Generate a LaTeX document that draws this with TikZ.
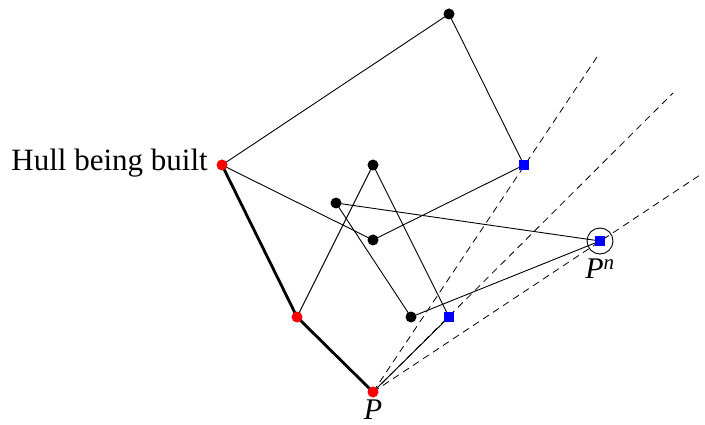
\documentclass[tikz,border=0pt]{standalone}
\usepackage{fontspec}
\setmainfont{Liberation Serif}
\begin{document}
\begin{tikzpicture}[x=1pt,y=-1pt,
  edge/.style={line width=0.9pt},
  hulledge/.style={line width=2.8pt},
  guide/.style={line width=0.8pt,dash pattern=on 7pt off 5pt},
  bdot/.style={circle,fill=black,inner sep=0pt,minimum size=11pt},
  rdot/.style={circle,fill=red,inner sep=0pt,minimum size=11pt},
  bsq/.style={rectangle,fill=blue,inner sep=0pt,minimum size=10pt},
  lbl/.style={font=\fontsize{31}{34}\selectfont},
  plbl/.style={font=\fontsize{30}{33}\selectfont},
]
\useasboundingbox (0,0) rectangle (705,425);
% points
\coordinate (h1) at (222,165);
\coordinate (h2) at (297,317);
\coordinate (p) at (373,392);
\coordinate (t) at (449,14);
\coordinate (b2) at (373,165);
\coordinate (b3) at (336,203);
\coordinate (b4) at (373,240);
\coordinate (b5) at (411,317);
\coordinate (s1) at (524,165);
\coordinate (s2) at (449,317);
\coordinate (pn) at (600,241);
\coordinate (e1) at (599,54);
\coordinate (e2) at (673,93);
\coordinate (e3) at (700,175);
% dashed guides
\draw[guide] (p) -- (e1);
\draw[guide] (p) -- (e2);
\draw[guide] (p) -- (e3);
% edges
\draw[edge] (h1) -- (t);
\draw[edge] (t) -- (s1);
\draw[edge] (s1) -- (b4);
\draw[edge] (h1) -- (b4);
\draw[edge] (b2) -- (h2);
\draw[edge] (b2) -- (s2);
\draw[edge] (b3) -- (b5);
\draw[edge] (b3) -- (pn);
\draw[edge] (b5) -- (pn);
\draw[edge] (s2) -- (p);
\draw[hulledge] (h1) -- (h2) -- (p);
% nodes
\node[rdot] (H1) at (h1) {};
\node[rdot] (H2) at (h2) {};
\node[rdot] (P) at (p) {};
\node[bdot] (T) at (t) {};
\node[bdot] (B2) at (b2) {};
\node[bdot] (B3) at (b3) {};
\node[bdot] (B4) at (b4) {};
\node[bdot] (B5) at (b5) {};
\node[bsq] (S1) at (s1) {};
\node[bsq] (S2) at (s2) {};
\node[bsq] (PN) at (pn) {};
\node[circle,draw,line width=0.9pt,inner sep=0pt,minimum size=26pt] (PNc) at (pn) {};
% labels
\node[lbl,anchor=east,inner sep=0pt] (hl) at (208,163) {Hull being built};
\node[plbl,inner sep=0pt] (pl) at (373,410) {\textit{P}};
\node[plbl,inner sep=0pt] (pnl) at (600,269) {\textit{P}\textsuperscript{\textit{n}}};
\end{tikzpicture}
\end{document}
